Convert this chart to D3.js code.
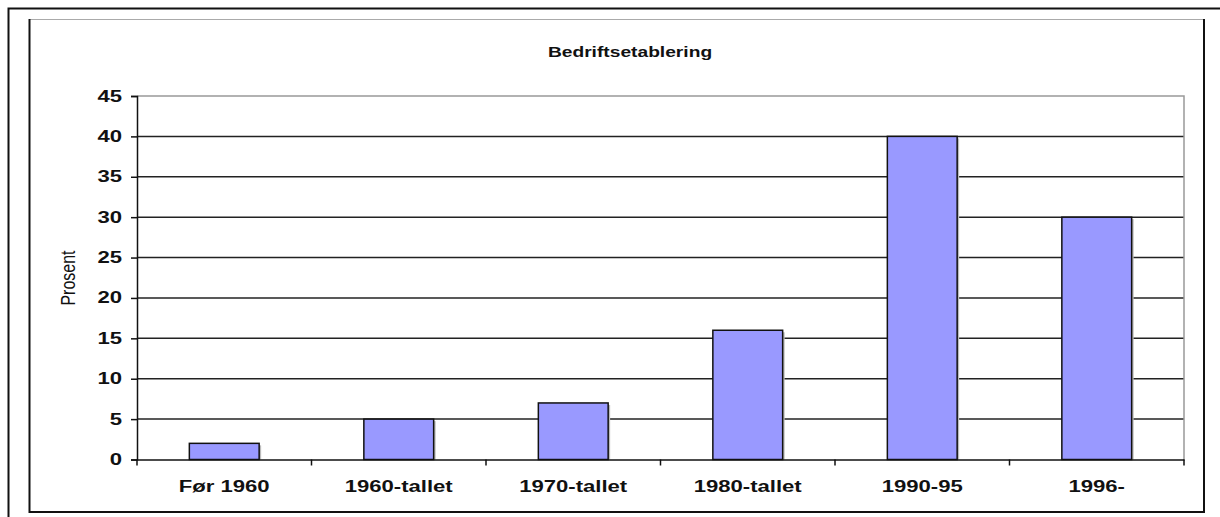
<!DOCTYPE html>
<html>
<head>
<meta charset="utf-8">
<script src="https://cdn.jsdelivr.net/npm/d3@7"></script>
<style>
  body { margin: 0; background: #fff; }
  text { font-family: "Liberation Sans", Arial, sans-serif; fill: #111; }
</style>
</head>
<body>
<script>
// data
var categories = ["Før 1960", "1960-tallet", "1970-tallet", "1980-tallet", "1990-95", "1996-"];
var values = [2, 5, 7, 16, 40, 30];
var yTicks = [0, 5, 10, 15, 20, 25, 30, 35, 40, 45];
var title = "Bedriftsetablering";
var yTitle = "Prosent";

var W = 1220, H = 517;
var plot = {left: 137, right: 1184, top: 96, bottom: 459.5};
var stretch = 1.38;   // the picture is squeezed wide, text too

var svg = d3.select("body")
    .append("svg")
        .attr("width", W)
        .attr("height", H);

// outer frame (top + left only)
svg.append("path")
    .attr("d", "M8.5," + H + "V8.5H" + W)
    .style("fill", "none")
    .style("stroke", "#111")
    .style("stroke-width", 2);

// inner frame, gray top, dark right / bottom / left
svg.append("line").attr("x1", 29).attr("x2", 1204).attr("y1", 19.5).attr("y2", 19.5)
    .style("stroke", "#aaa").style("stroke-width", 1);
svg.append("path")
    .attr("d", "M29.5,19V512H1204V19")
    .style("fill", "none")
    .style("stroke", "#111")
    .style("stroke-width", 2);

var x = d3.scaleBand()
    .domain(categories)
    .range([plot.left, plot.right]);

var y = d3.scaleLinear()
    .domain([0, 45])
    .range([plot.bottom, plot.top]);

var barW = x.step() * 0.4;

// gridlines
svg.append("g")
    .selectAll("line")
    .data(yTicks.filter(function(d){ return d > 0 && d < 45; }))
    .enter().append("line")
        .attr("x1", plot.left)
        .attr("x2", plot.right)
        .attr("y1", function(d){ return y(d); })
        .attr("y2", function(d){ return y(d); })
        .style("stroke", "#222")
        .style("stroke-width", 1.5);

// plot area border: top + right in gray
svg.append("path")
    .attr("d", "M" + plot.left + "," + y(45) + "H" + plot.right + "V" + plot.bottom)
    .style("fill", "none")
    .style("stroke", "#999")
    .style("stroke-width", 1.5);

// bar shadows
svg.append("g")
    .selectAll("rect")
    .data(values)
    .enter().append("rect")
        .attr("x", function(d, i){ return x(categories[i]) + (x.step() - barW) / 2 + 2; })
        .attr("y", function(d){ return y(d) + 2; })
        .attr("width", barW)
        .attr("height", function(d){ return y(0) - y(d) - 2; })
        .style("fill", "#bbb");

// bars
svg.append("g")
    .selectAll("rect")
    .data(values)
    .enter().append("rect")
        .attr("x", function(d, i){ return x(categories[i]) + (x.step() - barW) / 2; })
        .attr("y", function(d){ return y(d); })
        .attr("width", barW)
        .attr("height", function(d){ return y(0) - y(d); })
        .style("fill", "#9999ff")
        .style("stroke", "#111")
        .style("stroke-width", 1.5);

// y axis
var yAxis = svg.append("g")
    .attr("transform", "translate(" + plot.left + ",0)")
    .call(d3.axisLeft(y).tickValues(yTicks).tickSize(6).tickPadding(0).tickFormat(function(){ return ""; }));
yAxis.select(".domain").style("stroke", "#111").style("stroke-width", 1.5);
yAxis.selectAll(".tick line").style("stroke", "#111").style("stroke-width", 1.5);

svg.append("g")
    .selectAll("text")
    .data(yTicks)
    .enter().append("text")
        .text(function(d){ return d; })
        .attr("text-anchor", "end")
        .attr("font-size", "16px")
        .attr("font-weight", "bold")
        .attr("transform", function(d){ return "translate(122," + (y(d) + 5.5) + ") scale(" + stretch + ",1)"; });

// x axis
var xAxis = svg.append("g")
    .attr("transform", "translate(0," + plot.bottom + ")")
    .call(d3.axisBottom(x).tickSize(0).tickFormat(function(){ return ""; }));
xAxis.select(".domain").style("stroke", "#111").style("stroke-width", 1.5);

svg.append("g")
    .selectAll("line")
    .data(d3.range(categories.length + 1))
    .enter().append("line")
        .attr("x1", function(i){ return plot.left + i * x.step(); })
        .attr("x2", function(i){ return plot.left + i * x.step(); })
        .attr("y1", plot.bottom)
        .attr("y2", plot.bottom + 6)
        .style("stroke", "#111")
        .style("stroke-width", 1.5);

svg.append("g")
    .selectAll("text")
    .data(categories)
    .enter().append("text")
        .text(function(d){ return d; })
        .attr("text-anchor", "middle")
        .attr("font-size", "16px")
        .attr("font-weight", "bold")
        .attr("transform", function(d){ return "translate(" + (x(d) + x.step() / 2) + ",492) scale(" + stretch + ",1)"; });

// title
svg.append("text")
    .text(title)
    .attr("text-anchor", "middle")
    .attr("font-size", "15px")
    .attr("font-weight", "bold")
    .attr("transform", "translate(630,57) scale(1.28,1)");

// y title
svg.append("text")
    .text(yTitle)
    .attr("text-anchor", "middle")
    .attr("font-size", "16px")
    .attr("transform", "translate(75,278) scale(1.3,1) rotate(-90)");
</script>
</body>
</html>
